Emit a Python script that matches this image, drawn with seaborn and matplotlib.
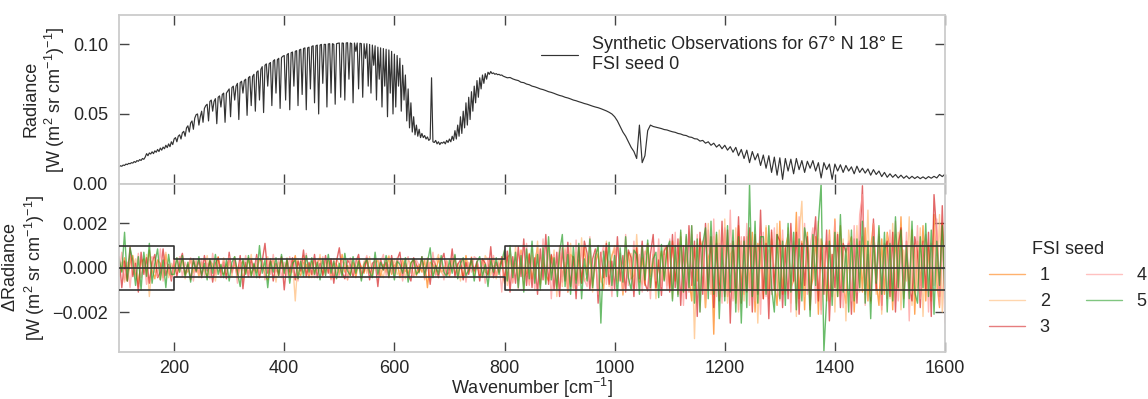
import numpy as np
import pandas as pd
import matplotlib
matplotlib.use("Agg")
import matplotlib.pyplot as plt
import seaborn as sns
from matplotlib.lines import Line2D

# ---------------- data ----------------
# spectrum: every 2.5 cm-1 for 100-797.5, every 5 cm-1 for 800-1600
wn_spec_low = np.arange(100, 800, 2.5)
wn_spec_high = np.arange(800, 1601, 5)
radiance_low = [
    0.0120, 0.0128, 0.0124, 0.0133, 0.0130, 0.0140, 0.0136, 0.0145, 0.0142, 0.0150,
    0.0147, 0.0158, 0.0152, 0.0165, 0.0160, 0.0172, 0.0166, 0.0180, 0.0174, 0.0190,
    0.0215, 0.0200, 0.0220, 0.0212, 0.0228, 0.0215, 0.0235, 0.0225, 0.0245, 0.0230,
    0.0255, 0.0240, 0.0262, 0.0250, 0.0275, 0.0258, 0.0285, 0.0265, 0.0300, 0.0280,
    0.0320, 0.0330, 0.0300, 0.0340, 0.0350, 0.0320, 0.0365, 0.0375, 0.0340, 0.0400,
    0.0415, 0.0370, 0.0435, 0.0450, 0.0390, 0.0470, 0.0495, 0.0500, 0.0420, 0.0480,
    0.0520, 0.0440, 0.0540, 0.0560, 0.0570, 0.0450, 0.0590, 0.0600, 0.0520, 0.0590,
    0.0610, 0.0430, 0.0620, 0.0630, 0.0550, 0.0640, 0.0650, 0.0440, 0.0650, 0.0665,
    0.0680, 0.0480, 0.0690, 0.0700, 0.0600, 0.0700, 0.0720, 0.0460, 0.0725, 0.0735,
    0.0650, 0.0740, 0.0750, 0.0490, 0.0760, 0.0770, 0.0560, 0.0770, 0.0785, 0.0520,
    0.0800, 0.0810, 0.0600, 0.0820, 0.0840, 0.0510, 0.0850, 0.0860, 0.0700, 0.0860,
    0.0870, 0.0560, 0.0880, 0.0890, 0.0650, 0.0890, 0.0900, 0.0540, 0.0905, 0.0915,
    0.0920, 0.0600, 0.0925, 0.0935, 0.0530, 0.0940, 0.0945, 0.0700, 0.0950, 0.0955,
    0.0560, 0.0960, 0.0965, 0.0640, 0.0970, 0.0975, 0.0530, 0.0975, 0.0980, 0.0680,
    0.0985, 0.0990, 0.0580, 0.0990, 0.0995, 0.0500, 0.0995, 0.1000, 0.0720, 0.1000,
    0.1000, 0.0550, 0.1003, 0.1005, 0.0650, 0.1005, 0.1000, 0.0570, 0.1005, 0.1008,
    0.1010, 0.0620, 0.1010, 0.1008, 0.0600, 0.1010, 0.1012, 0.0750, 0.1010, 0.1005,
    0.0580, 0.1010, 0.0950, 0.1010, 0.0680, 0.1008, 0.1005, 0.0620, 0.1005, 0.0900,
    0.1005, 0.0700, 0.1000, 0.0650, 0.0995, 0.0850, 0.0990, 0.0600, 0.0980, 0.0750,
    0.0975, 0.0550, 0.0970, 0.0700, 0.0965, 0.0480, 0.0960, 0.0650, 0.0950, 0.0500,
    0.0930, 0.0550, 0.0920, 0.0700, 0.0900, 0.0520, 0.0850, 0.0600, 0.0780, 0.0450,
    0.0680, 0.0400, 0.0580, 0.0370, 0.0480, 0.0350, 0.0420, 0.0340, 0.0390, 0.0330,
    0.0360, 0.0330, 0.0345, 0.0320, 0.0335, 0.0310, 0.0320, 0.0760, 0.0300, 0.0295,
    0.0310, 0.0285, 0.0300, 0.0280, 0.0295, 0.0290, 0.0300, 0.0285, 0.0310, 0.0295,
    0.0320, 0.0300, 0.0340, 0.0310, 0.0380, 0.0320, 0.0420, 0.0340, 0.0480, 0.0360,
    0.0520, 0.0400, 0.0580, 0.0420, 0.0620, 0.0460, 0.0660, 0.0520, 0.0700, 0.0580,
    0.0740, 0.0620, 0.0760, 0.0680, 0.0780, 0.0720, 0.0790, 0.0750, 0.0800, 0.0785,
    0.0805, 0.0790, 0.0795, 0.0785, 0.0790, 0.0782, 0.0785, 0.0778, 0.0780, 0.0772,
]
radiance_high = [
    0.0768, 0.0760, 0.0762, 0.0752, 0.0745, 0.0740, 0.0728, 0.0725, 0.0715, 0.0710,
    0.0700, 0.0695, 0.0688, 0.0680, 0.0675, 0.0668, 0.0660, 0.0655, 0.0648, 0.0640,
    0.0633, 0.0628, 0.0620, 0.0615, 0.0608, 0.0600, 0.0595, 0.0588, 0.0582, 0.0575,
    0.0570, 0.0563, 0.0556, 0.0550, 0.0545, 0.0538, 0.0530, 0.0522, 0.0512, 0.0500,
    0.0480, 0.0450, 0.0410, 0.0370, 0.0340, 0.0300, 0.0260, 0.0230, 0.0180, 0.0420,
    0.0150, 0.0200, 0.0380, 0.0420, 0.0410, 0.0405, 0.0400, 0.0395, 0.0388, 0.0385,
    0.0378, 0.0372, 0.0368, 0.0360, 0.0356, 0.0348, 0.0345, 0.0335, 0.0332, 0.0322,
    0.0320, 0.0305, 0.0310, 0.0290, 0.0300, 0.0275, 0.0290, 0.0262, 0.0280, 0.0250,
    0.0275, 0.0240, 0.0265, 0.0225, 0.0260, 0.0200, 0.0245, 0.0180, 0.0240, 0.0150,
    0.0230, 0.0170, 0.0215, 0.0130, 0.0205, 0.0110, 0.0200, 0.0080, 0.0190, 0.0060,
    0.0185, 0.0030, 0.0180, 0.0090, 0.0175, 0.0070, 0.0180, 0.0100, 0.0165, 0.0080,
    0.0160, 0.0110, 0.0165, 0.0090, 0.0150, 0.0040, 0.0150, 0.0100, 0.0140, 0.0030,
    0.0140, 0.0090, 0.0135, 0.0080, 0.0130, 0.0090, 0.0120, 0.0070, 0.0125, 0.0080,
    0.0110, 0.0075, 0.0105, 0.0060, 0.0100, 0.0065, 0.0090, 0.0050, 0.0080, 0.0045,
    0.0070, 0.0045, 0.0065, 0.0040, 0.0060, 0.0038, 0.0055, 0.0035, 0.0052, 0.0036,
    0.0050, 0.0035, 0.0048, 0.0034, 0.0050, 0.0038, 0.0052, 0.0040, 0.0065, 0.0050,
    0.0068,
]

# noise realisations every 5 cm-1 (100-1600), in units of 1e-5 W (m2 sr cm-1)-1
wn_noise = np.arange(100, 1601, 5)
seed_names = ["1", "2", "3", "4", "5"]
noise_seed1 = [
    30, -15, 45, -60, 20, 55, -30, -70, 25, 40,
    -35, 80, -10, -50, 35, 20, -45, 60, -25, -40,
    20, -25, 10, 35, -30, -15, 40, -20, 15, -35,
    25, -10, -40, 30, 15, -25, 50, -20, -30, 10,
    35, -15, 20, -45, 10, 30, -25, 45, -35, 15,
    -20, 40, 25, -30, -55, 20, 35, -10, -25, 45,
    -15, 30, -40, 10, 55, -20, -35, 25, 15, -45,
    30, -25, 20, 45, -30, -10, 35, -50, 20, 15,
    -30, 60, -20, 10, -35, 25, -45, 30, 5, -25,
    40, -15, -30, 20, 35, -40, 15, -20, 50, -30,
    10, 25, -45, 35, -15, -25, 20, 40, -35, 15,
    -20, 35, -90, 25, 15, -30, 45, -20, -10, 30,
    -40, 20, 35, -25, 10, -45, 55, -15, 25, -30,
    15, -35, 40, -20, -30, 25, 45, -40, 10, 30,
    -70, 45, 60, -35, 20, -55, 80, -40, -25, 65,
    -50, 30, 90, -75, 40, -30, -60, 55, 20, -85,
    70, -40, 25, -110, 60, 45, -55, 35, -70, 95,
    -30, 50, -80, 20, 65, -45, -95, 75, -20, 55,
    85, -60, 40, -120, 30, 70, -50, -35, 90, -65,
    45, -80, 110, -40, 60, -95, 25, 75, -55, 100,
    -90, 120, -60, 35, 140, -110, 70, -45, -150, 100,
    -60, 130, 80, -180, 45, 90, -300, 150, -70, -100,
    170, -130, 60, 80, -160, 190, -40, -120, 140, -90,
    160, -200, 110, 50, -140, 180, -100, 130, -70, -170,
    210, -120, 90, 150, -90, -60, 250, -140, 120, -190,
    160, -110, -50, 140, -210, 130, 70, -150, 170, -90,
    220, -130, 190, -80, -160, 100, 140, -200, 60, 120,
    -110, 180, -150, 90, 200, -60, -170, 130, -120, 160,
    80, -190, 150, -100, 230, -140, 60, -90, 170, -210,
    120, -80, 190, -150, 100, -130, 240, -60, -180, 200,
    -120,
]
noise_seed2 = [
    -40, 25, -65, 10, 50, -30, 40, -85, 35, -20,
    60, -130, 15, 45, -25, -55, 30, 70, -45, 20,
    -35, 45, -20, 30, -50, 15, 40, -25, 35, -45,
    25, -15, 55, -30, 20, -60, 35, -10, 45, -30,
    25, -40, 50, -20, 35, -55, 15, -25, 60, -35,
    20, -45, 30, -15, 50, -25, 40, -65, 25, 10,
    -30, 45, -20, 35, -150, 40, -25, 55, -35, 20,
    -45, 30, -15, 60, -40, 25, -20, 35, -50, 40,
    15, -30, 25, -55, 40, 10, -20, 45, -35, 30,
    -25, 50, -40, 20, 35, -15, -45, 30, 55, -20,
    40, -30, -15, 25, -50, 35, 20, -40, 15, -25,
    30, -55, 45, -10, -35, 25, 60, -20, -40, 35,
    -15, 45, -30, 20, -60, 40, 15, -25, 50, -35,
    25, -20, -45, 55, 30, -35, 10, -50, 40, 20,
    60, -80, 45, -65, 95, -40, 70, -100, 55, -75,
    85, -50, 120, -90, 60, -70, 100, -45, 80, -130,
    65, -85, 90, -60, 110, -95, 70, -80, 135, -60,
    -40, 75, -110, 50, 90, -65, -35, 120, -85, 55,
    100, -70, 40, -125, 80, -50, 65, -90, 150, -45,
    -75, 60, 110, -100, 45, -140, 85, -55, 95, -80,
    100, -140, 80, -120, 160, -90, 130, -110, 150, -320,
    110, -150, 90, -180, 200, -120, 140, -100, 170, -130,
    220, -160, 110, -140, 180, -200, 120, -150, 90, 170,
    -130, 140, -250, 120, -110, 190, -140, 160, -100, 200,
    -150, 130, -120, 180, -160, 110, -220, 150, 300, -130,
    90, -170, 140, -60, 210, -190, 80, 120, -150, 60,
    -200, 160, -90, 130, -240, 170, 50, -130, 190, -110,
    140, -80, 260, -160, 90, -120, 180, -210, 70, 150,
    -140, 200, -100, 160, -190, 80, -60, 230, -170, 110,
    -90, 180, -220, 130, 70, -150, 190, -100, 240, -200,
    150,
]
noise_seed3 = [
    50, -90, 30, -60, 95, -40, 20, -110, 70, -30,
    45, -70, 25, 60, -45, -20, 85, -35, 15, -60,
    40, -40, 25, 65, -30, 15, -55, 40, -20, 35,
    -45, 55, -15, 30, -65, 20, 45, -35, 25, -50,
    70, -20, 40, -30, 55, -95, 25, -40, 35, -15,
    60, -45, 30, 110, -25, 40, -60, 20, -35, 50,
    -100, 35, -20, 45, -55, 30, -15, 80, -40, 25,
    -30, 60, -45, 20, -35, 55, -25, 40, -70, 30,
    90, -20, -50, 35, 15, -40, 25, 60, -30, -15,
    45, -55, 20, 30, -85, 40, -10, 25, -45, 55,
    -25, 35, 70, -40, 20, -30, -60, 45, 15, -20,
    50, -35, 25, -75, 40, 10, -45, 30, 65, -30,
    -20, 85, -40, 15, 35, -55, 25, -30, 45, -15,
    30, -60, 40, 20, -35, 95, -45, 25, -20, 50,
    -60, 75, -110, 50, -70, 95, -40, 130, -80, 60,
    -90, 45, -120, 85, -55, 150, -75, 60, -100, 70,
    -130, 90, -60, 115, -85, 50, -140, 95, -70, 120,
    65, -100, 40, 85, -160, 70, -45, 110, -75, 30,
    -95, 140, -60, 55, -110, 80, 45, -130, 90, -50,
    120, -70, -105, 60, 150, -90, 35, -125, 75, 100,
    -110, 150, -90, 130, -170, 100, -140, 190, -80, 120,
    -220, 160, -120, 200, -100, 140, -180, 110, -150, 210,
    -130, 170, -250, 120, -90, 230, -160, 140, -110, 180,
    -200, 150, -120, 260, -140, 110, -230, 170, -100, 150,
    120, -180, 90, -140, 200, -60, 160, -210, 110, -80,
    140, -190, 80, 230, -150, 100, -120, 170, -240, 60,
    -90, 150, -180, 110, 70, 110, -210, 130, -160, 90,
    370, -120, 60, -150, 220, -100, 140, -170, 80, 120,
    -130, 160, -200, 100, 180, -110, 120, -90, -150, 140,
    70, -180, 120, -100, 160, -220, 330, 150, -130, 280,
    -160,
]
noise_seed4 = [
    -30, 70, -55, 25, -90, 40, -20, 65, -45, 30,
    -75, 35, 50, -20, -40, 85, -60, 25, 10, -50,
    35, -20, 50, -40, 25, -15, 45, -60, 30, -25,
    40, -35, 20, -50, 65, -30, 15, -45, 35, -20,
    50, -25, 40, -70, 30, -15, 55, -35, 20, -40,
    45, -25, 35, -55, 15, -30, 60, -20, 40, -45,
    25, -35, 50, -20, 30, -60, 40, -25, 65, -30,
    20, -45, 35, -15, 50, -35, 25, -55, 40, -20,
    -40, 30, 15, -55, 45, -25, 35, 10, -50, 20,
    55, -30, -20, 40, -45, 25, 60, -35, 15, -15,
    -35, 45, 20, -60, 30, 50, -25, -40, 35, 10,
    25, -50, 40, -20, 70, -35, -15, 45, -55, 30,
    -30, 20, 55, -45, 15, 35, -65, 25, -20, 50,
    40, -25, 30, -70, 45, -10, 55, -40, 25, -110,
    75, -55, 90, -70, 45, -95, 65, -50, 110, -80,
    55, -100, 70, -60, 130, -45, 85, -140, 60, -75,
    100, -65, 80, -110, 50, -90, 125, -70, 95, -55,
    -85, 140, -60, 70, -120, 45, 100, -75, 30, -130,
    90, -50, 65, -105, 150, -80, -40, 120, -95, 60,
    -110, 75, 45, -140, 95, -60, 130, -85, 55, -100,
    130, -100, 160, -120, 90, -170, 140, -110, 190, -80,
    150, -200, 120, -140, 170, -90, 220, -130, 110, -160,
    180, -120, 260, -150, 100, -190, 140, -110, 200, -170,
    120, -150, 90, -210, 160, -130, 80, -120, 180, -100,
    -140, 170, -110, 150, -200, 120, -160, 230, -90, 200,
    -120, 90, 180, -160, 130, -210, 100, -70, 150, -130,
    210, -90, 140, -180, 60, 120, -150, 190, -110, 240,
    330, -170, 100, -130, 200, -60, 150, -190, 110, -140,
    170, -100, 210, -150, 80, -120, 160, -240, 130, -70,
    190, -140, 90, 150, -200, 110, -80, 220, -170, 120,
    -250,
]
noise_seed5 = [
    40, -20, 160, -60, 90, 30, -80, 50, -100, 70,
    -40, 110, -70, 20, 85, -55, 35, -90, 60, -30,
    -30, 45, -20, 55, -40, 25, -65, 35, -15, 50,
    -35, 20, -55, 40, -25, 60, -30, 15, -45, 35,
    -60, 25, 50, -20, -85, 40, -30, 55, -40, 20,
    -45, 100, -25, 35, -90, 30, -20, 45, -35, 60,
    -25, 40, -70, 20, 35, -50, 30, -40, 55, -20,
    45, -30, 25, -55, 40, -35, 60, -25, 30, -50,
    20, -40, 65, -15, -35, 50, -25, 30, -60, 15,
    40, -20, -45, 70, -30, 25, -10, 55, -40, 35,
    -55, 30, 15, -25, 45, -65, 20, 40, -30, -15,
    50, -35, 25, 90, -45, 10, -30, 55, -20, -40,
    35, -25, 60, -50, 20, 45, -35, -10, 40, -60,
    25, 50, -40, 15, -85, 35, -20, 45, -30, 30,
    80, -60, 100, -45, 70, -90, 55, -110, 85, -50,
    120, -70, 60, -100, 90, -75, 140, -55, 45, -95,
    70, 150, -85, 60, -120, 95, -70, 110, -140, 40,
    -60, 130, -90, 50, 100, -250, 75, -40, 115, -80,
    55, -130, 90, -65, 140, -45, -100, 80, 60, -120,
    95, -55, 125, -90, 40, 70, -135, 105, -60, 85,
    120, -150, 100, -130, 170, -110, 150, -90, 190, -160,
    130, -200, 110, 180, -140, 210, -120, 160, -230, 90,
    -150, 190, -110, 170, -200, 140, -250, 120, -180, 380,
    -130, 210, -160, 140, 140, -120, 190, -90, -200, 150,
    -140, 120, -170, 200, -110, 160, -190, 130, -150, 180,
    100, -220, 150, -80, 200, 380, -380, -140, 120, -170,
    160, -130, 240, -110, 90, -200, 170, -150, 130, -90,
    210, -160, 120, -230, 140, -70, 190, -120, 160, -200,
    110, -150, 230, -90, 170, -180, 100, -140, 210, -110,
    -160, 140, -90, 200, -130, 170, -210, 120, -80, 190,
    -140,
]

# noise envelope (step function)
envelope_edges = [100, 200, 800, 1600]
envelope_level = [0.001, 0.0004, 0.001, 0.001]

location_label = "Synthetic Observations for 67° N 18° E\nFSI seed 0"
seed_colors = ["#ff7f0e", "#ffbb78", "#d62728", "#ff9896", "#2ca02c"]

# ---------------- style ----------------
sns.set_style("ticks")
plt.rcParams["font.family"] = ["Liberation Sans", "DejaVu Sans"]
plt.rcParams["mathtext.fontset"] = "custom"
plt.rcParams["mathtext.rm"] = "Liberation Sans"
plt.rcParams["mathtext.it"] = "Liberation Sans:italic"
plt.rcParams["mathtext.bf"] = "Liberation Sans:bold"
plt.rcParams["font.size"] = 13
text_color = "#262626"

fig, (ax1, ax2) = plt.subplots(2, 1, figsize=(11.48, 3.99), dpi=100, sharex=True)
fig.subplots_adjust(left=0.1037, right=0.8232, top=0.962, bottom=0.118, hspace=0)

# top panel: spectrum
spec_df = pd.DataFrame({
    "wn": np.concatenate([wn_spec_low, wn_spec_high]),
    "rad": radiance_low + radiance_high,
})
sns.lineplot(data=spec_df, x="wn", y="rad", ax=ax1, color="#333333", lw=0.85,
             label=location_label, estimator=None)
ax1.set_ylim(0, 0.121)
ax1.set_yticks([0.0, 0.05, 0.10])
ax1.set_ylabel("Radiance\n[W (m$^2$ sr cm$^{-1}$)$^{-1}$]", fontsize=13, color=text_color)
ax1.legend(loc="upper right", bbox_to_anchor=(0.969, 0.97), frameon=False,
           fontsize=13, handlelength=2.0, labelcolor=text_color)

# bottom panel: noise realisations
frames = []
for name, vals in zip(seed_names, [noise_seed1, noise_seed2, noise_seed3,
                                   noise_seed4, noise_seed5]):
    frames.append(pd.DataFrame({"wn": wn_noise,
                                "dr": np.asarray(vals, dtype=float) * 1e-5,
                                "seed": name}))
noise_df = pd.concat(frames, ignore_index=True)
palette = dict(zip(seed_names, seed_colors))
sns.lineplot(data=noise_df, x="wn", y="dr", hue="seed", palette=palette,
             ax=ax2, lw=1.0, alpha=0.7, legend=False, estimator=None)

env = np.asarray(envelope_level)
ax2.step(envelope_edges, env, where="post", color="#333333", lw=1.2, zorder=5)
ax2.step(envelope_edges, -env, where="post", color="#333333", lw=1.2, zorder=5)
ax2.axhline(0, color="#333333", lw=1.2, zorder=5)
ax2.set_ylim(-0.0038, 0.0038)
ax2.set_yticks([-0.002, 0.0, 0.002])
ax2.set_yticklabels(["\u22120.002", "0.000", "0.002"])
ax2.set_ylabel("$\\Delta$Radiance\n[W (m$^2$ sr cm$^{-1}$)$^{-1}$]", fontsize=13,
               color=text_color)
ax2.set_xlabel("Wavenumber [cm$^{-1}$]", fontsize=13, color=text_color, labelpad=-1)
ax2.set_xlim(100, 1600)
ax2.set_xticks(range(200, 1601, 200))

handles = [Line2D([], [], color=c, lw=1.0, alpha=0.6) for c in seed_colors]
fig.legend(handles, seed_names, title="FSI seed", ncol=2, frameon=False,
           loc="upper left", bbox_to_anchor=(0.8475, 0.437), fontsize=13,
           title_fontsize=13, labelcolor=text_color)

for ax in (ax1, ax2):
    for s in ax.spines.values():
        s.set_color("#cccccc")
        s.set_linewidth(1.3)
    ax.tick_params(direction="in", length=7, width=1, color="#444444",
                   top=True, right=True, labelsize=13, labelcolor=text_color)
    ax.tick_params(axis="y", pad=8)
    ax.tick_params(axis="x", pad=6)
ax1.tick_params(labelbottom=False)
ax1.set_xlabel("")

fig.savefig("out.png", dpi=100)
